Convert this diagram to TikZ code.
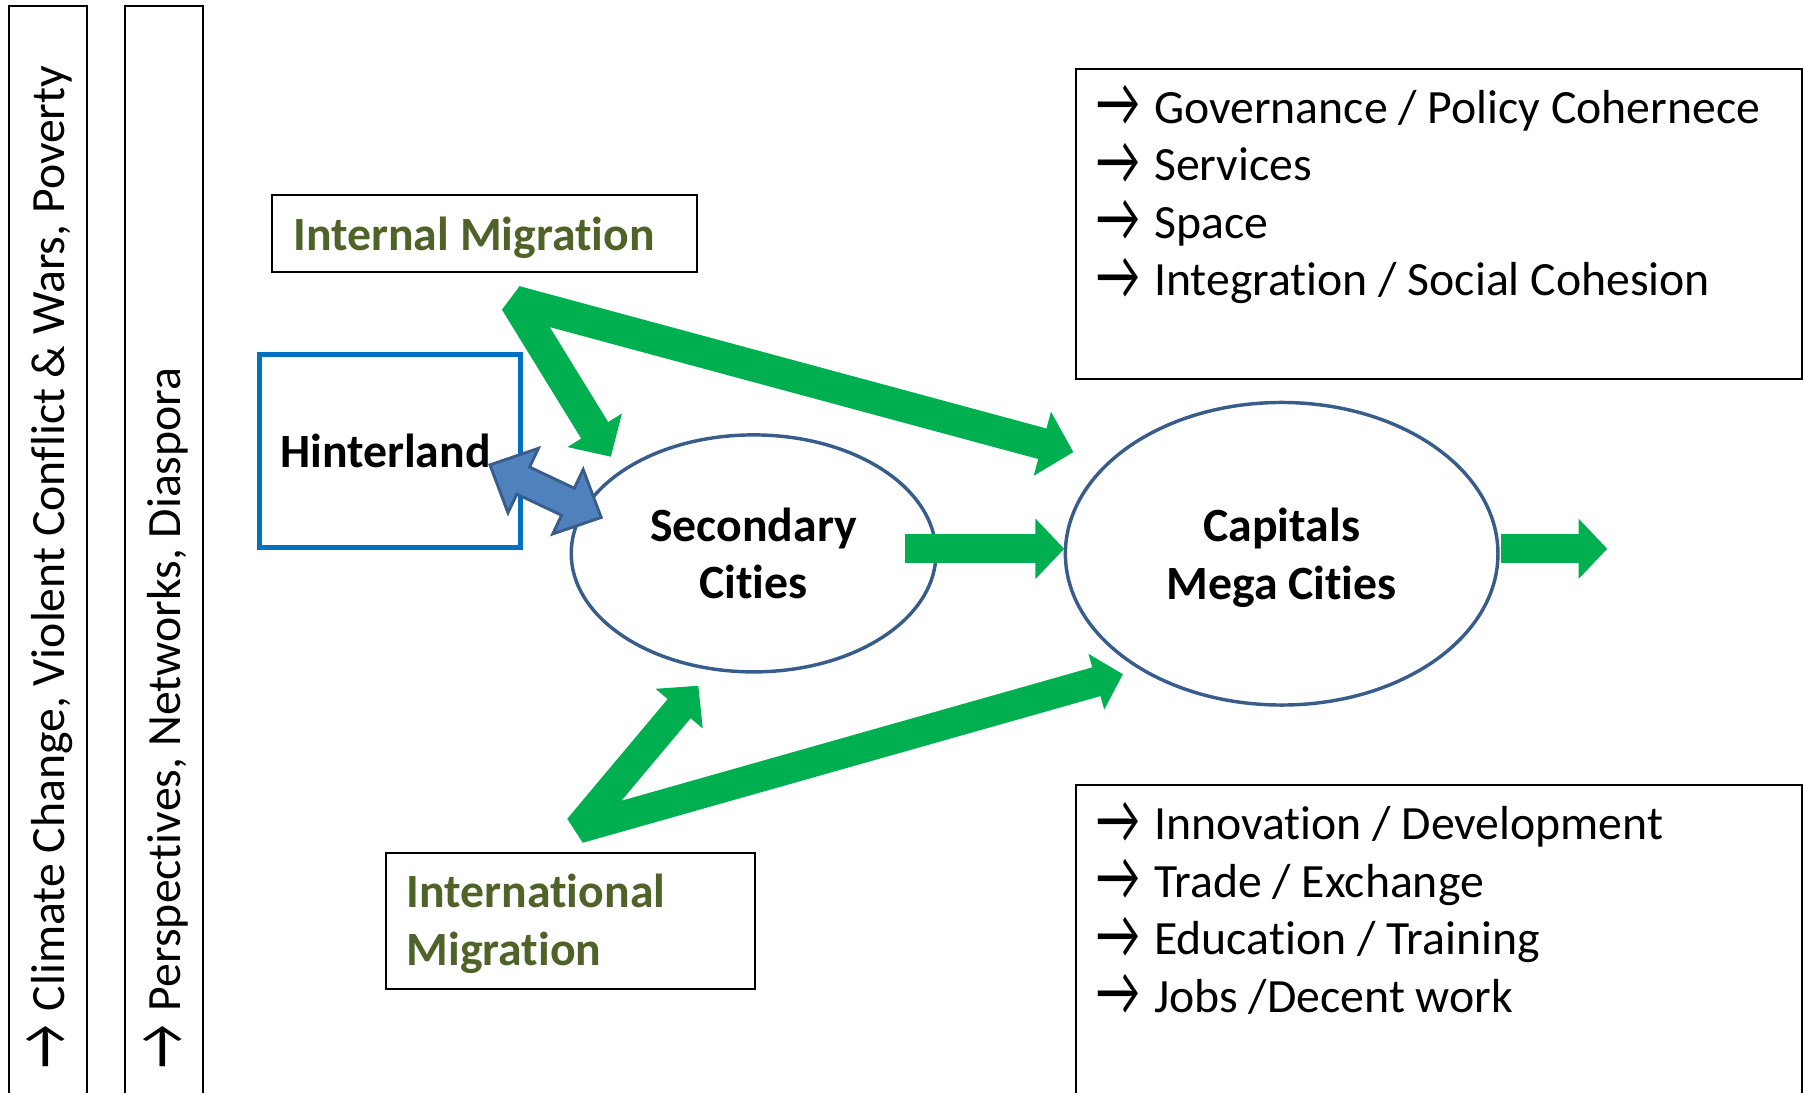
\documentclass[tikz,border=0pt]{standalone}
\usepackage{fontspec}
\setmainfont{Carlito}[Ligatures=NoCommon]
\usetikzlibrary{arrows.meta,shapes.geometric}

\definecolor{flowgreen}{HTML}{00B050}
\definecolor{migolive}{HTML}{4F6228}
\definecolor{cityrim}{HTML}{385D8A}
\definecolor{hinterblue}{HTML}{0070C0}
\definecolor{linkblue}{HTML}{4F81BD}

\newcommand{\pointer}{\makebox[50pt][l]{\raisebox{-3pt}{\scalebox{0.87}[1.3]{\fontsize{48}{50}\selectfont →}}}}
\newcommand{\bigfont}{\fontsize{41.5}{50}\selectfont}

\tikzset{
  frame/.style={draw, line width=1.7pt, inner sep=0pt},
  listline/.style={font=\bigfont, anchor=base west, inner sep=0pt},
  city/.style={ellipse, draw=cityrim, line width=3pt, fill=white, align=center,
    font=\bigfont\bfseries, inner sep=0pt},
  migbox/.style={draw, line width=1.7pt, inner xsep=18pt, align=flush left,
    text=migolive, font=\bigfont\bfseries},
  flow/.style={draw=flowgreen, line width=#1, line join=bevel},
}

\begin{document}
\begin{tikzpicture}[x=1pt,y=-1pt]
  \useasboundingbox (0,0) rectangle (1568,950);

  % side bars
  \node[frame, anchor=north west, minimum width=67.6pt, minimum height=1000pt] (bar1) at (7.2,4.3) {};
  \node[frame, anchor=north west, minimum width=67.8pt, minimum height=1000pt] (bar2) at (108.1,4.3) {};
  \node[listline, rotate=90] (drivers) at (56,929) {\pointer Climate Change, Violent Conflict \& Wars, Poverty};
  \node[listline, rotate=90] (links) at (157,929) {\pointer Perspectives, Networks, Diaspora};

  % lists
  \node[frame, anchor=north west, minimum width=631pt, minimum height=269pt] (policy) at (934.5,59.5) {};
  \foreach \entry [count=\i] in {Governance / Policy Cohernece, Services, Space, Integration / Social Cohesion}
    \node[listline] (policy\i) at (953,57+50*\i) {\pointer\entry};
  \node[frame, anchor=north west, minimum width=631pt, minimum height=400pt] (econ) at (934.5,681.5) {};
  \foreach \entry [count=\i] in {Innovation / Development, Trade / Exchange, Education / Training, Jobs /Decent work}
    \node[listline] (econ\i) at (953,680+50*\i) {\pointer\entry};

  % places
  \node[draw=hinterblue, line width=4pt, minimum height=168pt, text width=191pt, inner xsep=18pt,
    align=flush left, font=\bigfont\bfseries] (hinter) at (339,392) {Hinterland};
  \node[migbox, minimum height=66.8pt, text width=332pt, inner xsep=19pt, text depth=0pt] (internal) at (421,203) {Internal Migration};
  \node[migbox, minimum height=118pt, text width=285pt, text depth=52pt] (international) at (496,800.4) {International\\Migration};
  \node[city, minimum width=317pt, minimum height=206pt] (secondary) at (655,481) {Secondary\\Cities};
  \node[city, minimum width=376pt, minimum height=263pt, text depth=0pt] (capital) at (1114,481.3) {Capitals\\Mega Cities};

  % hinterland link
  \coordinate (link) at (474.2,426.9);
  \begin{scope}[shift={(link)}, rotate=-25.3]
    \filldraw[fill=linkblue, draw=cityrim, line width=2.5pt, line join=miter]
      (-53.5,0) -- (-21.5,-31) -- (-21.5,-13) -- (21.5,-13) -- (21.5,-31) -- (53.5,0)
      -- (21.5,31) -- (21.5,13) -- (-21.5,13) -- (-21.5,31) -- cycle;
  \end{scope}

  % migration flows
  \coordinate (inthub) at (448,262);
  \coordinate (intsec) at (531,397);
  \coordinate (intcap) at (933,393);
  \draw[flow=27.5pt, {Triangle[length=27pt,width=54pt]}-{Triangle[length=28pt,width=56pt]}]
    (intsec) -- (inthub) -- (intcap);

  \coordinate (exthub) at (503,720);
  \coordinate (extsec) at (607,596);
  \coordinate (extcap) at (976,586);
  \draw[flow=26pt, {Triangle[length=26pt,width=52pt]}-{Triangle[length=24pt,width=49pt]}]
    (extsec) -- (exthub) -- (extcap);

  \coordinate (secout) at (787,477);
  \coordinate (capin) at (925,477);
  \draw[flow=25pt, -{Triangle[length=25pt,width=51pt]}] (secout) -- (capin);

  \coordinate (capout) at (1305,477);
  \coordinate (beyond) at (1397,477);
  \draw[flow=25pt, -{Triangle[length=25pt,width=51pt]}] (capout) -- (beyond);
\end{tikzpicture}
\end{document}
